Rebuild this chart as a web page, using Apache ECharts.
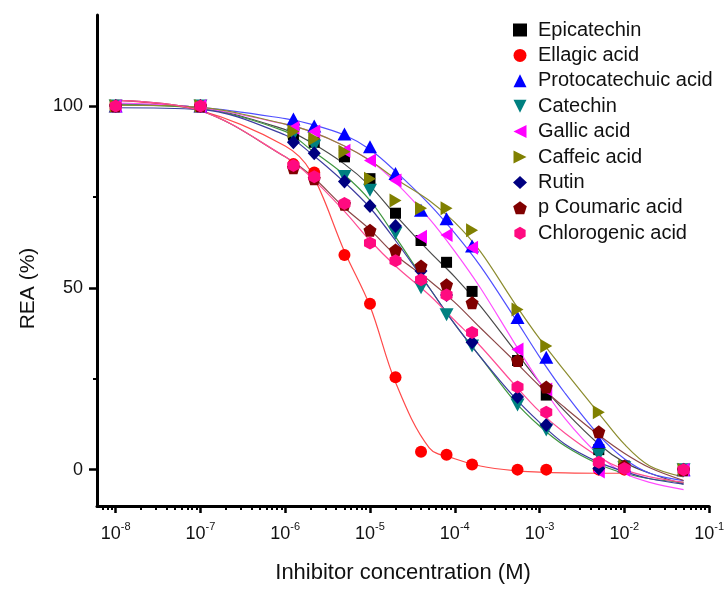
<!DOCTYPE html>
<html><head><meta charset="utf-8">
<script src="https://cdn.jsdelivr.net/npm/echarts@6/dist/echarts.min.js"></script>
<style>html,body{margin:0;padding:0;background:#fff}#c{width:727px;height:589px}</style>
</head><body><div id="c"></div>
<script>
// ---- data ----
const seriesNames = ['Epicatechin','Ellagic acid','Protocatechuic acid','Catechin','Gallic acid','Caffeic acid','Rutin','p Coumaric acid','Chlorogenic acid'];
const concentrations = [1e-8, 1e-7, 1.25e-6, 2.2e-6, 5e-6, 1e-5, 2e-5, 4e-5, 8e-5, 1.6e-4, 5.5e-4, 1.2e-3, 5e-3, 1e-2, 5e-2];
const epicatechin    = [100, 100, 92, 90, 86, 80, 70.5, 63, 57, 49, 30, 20.5, 5.5, 1, 0];
const ellagicAcid    = [100, 100, 84, 81.7, 59, 45.6, 25.4, 4.9, 4.1, 1.4, 0, 0, 0, 0, 0];
const protocatechuic = [100, 100, 96.4, 94.5, 92.3, 88.8, 81.4, 71.3, 69, 61.5, 41.8, 30.9, 7.7, 1, 0];
const catechin       = [100, 100, 92, 89, 80.6, 76.8, 65, 50, 42.6, 34, 17.8, 10.9, 4, 0.5, 0];
const gallicAcid     = [100, 100, 94, 93, 87.7, 85, 79.5, 64, 64.5, 61, 33, 22, -0.5, 0, 0];
const caffeicAcid    = [100, 100, 93, 91, 87.4, 80, 74, 71.9, 71.9, 65.8, 44, 34, 15.8, 1, 0];
const rutin          = [100, 100, 90, 87, 79.2, 72.5, 67, 54.6, 48, 35, 20, 12.3, 0.3, 0.5, 0];
const pCoumaricAcid  = [100, 100, 83, 80, 73, 65.8, 60.4, 56, 50.8, 45.9, 30, 22.7, 10.4, 1, 0];
const chlorogenic    = [100, 100, 83.6, 80.5, 73.2, 62.3, 57.4, 52.2, 48, 37.7, 22.7, 15.8, 2, 0.3, 0];

// fitted curves
const fitConc = [1e-8, 1e-7, 1e-6, 2e-6, 5e-6, 1e-5, 2e-5, 5e-5, 1e-4, 2e-4, 5e-4, 1e-3, 2e-3, 5e-3, 1e-2, 2e-2, 5e-2];
const fitEpicatechin    = [100.5, 99.5, 93.5, 90, 84, 78, 70, 60, 53, 45, 33, 24, 16, 7, 2, -1, -4];
const fitEllagic        = [101.5, 98.7, 89, 82, 60, 45, 24, 6, 3, 1, -0.3, -0.7, -0.9, -1, -1, null, null];
const fitProtocatechuic = [100.5, 99.6, 96.5, 95, 92, 88, 82, 73, 65, 56, 42, 31, 21, 9.5, 3, -1, -3];
const fitCatechin       = [100.3, 99.3, 93, 88, 81, 74, 64, 50, 40, 31, 19, 12, 6.5, 1.5, -1, -2.5, -3.5];
const fitGallic         = [100.8, 99.5, 95, 93, 89, 85, 79, 69, 60, 50, 35, 24, 14, 4, -1, -3.5, -5.5];
const fitCaffeic        = [100.2, 99.6, 95, 93, 89, 85, 80, 74, 68, 60, 46, 36, 27, 15.5, 7, 1, -2];
const fitRutin          = [99.5, 99, 92, 87, 79, 72, 63, 50, 40, 31, 20, 13, 7, 2, -0.5, -2.5, -4];
const fitPCoumaric      = [101.5, 98.7, 86, 81, 72, 66, 59, 52, 46, 39, 30, 23, 17, 9.5, 4.5, 0.5, -3];
const fitChlorogenic    = [101.5, 98.7, 86, 80.5, 71, 63, 56, 48, 41, 34, 23.5, 16, 10, 3.5, 0, -2, -3.5];

const majorExponents = [-8, -7, -6, -5, -4, -3, -2, -1];
const yTickValues = [0, 50, 100];
const yMinorTickValues = [25, 75];

// ---- styles ----
const pointSets = [epicatechin, ellagicAcid, protocatechuic, catechin, gallicAcid, caffeicAcid, rutin, pCoumaricAcid, chlorogenic];
const fitSets = [fitEpicatechin, fitEllagic, fitProtocatechuic, fitCatechin, fitGallic, fitCaffeic, fitRutin, fitPCoumaric, fitChlorogenic];
const markerColors = ['#000000','#ff0000','#0000ff','#008080','#ff00ff','#808000','#000080','#800000','#ff0a80'];
const lineColors = ['#4a4a4a','#ff4a4a','#5050ff','#3f963f','#ff4dff','#8c8c2e','#3c3ca0','#8c4848','#ff4d94'];
const symbols = [
  'rect', 'circle',
  'path://M0,-1 L1,1 L-1,1 Z',
  'path://M-1,-1 L1,-1 L0,1 Z',
  'path://M-1,0 L1,-1 L1,1 Z',
  'path://M1,0 L-1,-1 L-1,1 Z',
  'diamond',
  'path://M0,-1 L0.951,-0.309 L0.588,0.809 L-0.588,0.809 L-0.951,-0.309 Z',
  'path://M0,-1 L0.866,-0.5 L0.866,0.5 L0,1 L-0.866,0.5 L-0.866,-0.5 Z'
];
const symbolSizes = [11, 12, [14,13], [14,13], [12,14], [12,14], [13,14], [13,13], [12,13]];

const FONT = 'Arial, "Liberation Sans", sans-serif';
const XMIN = -8.22, XMAX = -1;
const minorExps = [];
for (let d = -9; d <= -2; d++) for (let k = 2; k <= 9; k++) {
  const v = d + Math.log10(k);
  if (v >= XMIN && v <= XMAX) minorExps.push(v);
}

const series = [];
fitSets.forEach((f, i) => {
  series.push({
    name: 'fit ' + seriesNames[i], type: 'line', xAxisIndex: 0, yAxisIndex: 0,
    data: fitConc.map((c, j) => f[j] == null ? null : [Math.log10(c), f[j]]).filter(Boolean),
    showSymbol: false, symbol: 'none', smooth: 0.35, silent: true, z: 2,
    lineStyle: { color: lineColors[i], width: 1.2 }
  });
});
pointSets.forEach((p, i) => {
  series.push({
    name: seriesNames[i], type: 'scatter', xAxisIndex: 0, yAxisIndex: 0,
    data: concentrations.map((c, j) => p[j] == null ? null : [Math.log10(c), p[j]]).filter(Boolean),
    symbol: symbols[i], symbolSize: symbolSizes[i], z: 3,
    itemStyle: { color: markerColors[i], opacity: 1 }
  });
});

const chart = echarts.init(document.getElementById('c'), null, { renderer: 'canvas' });
chart.setOption({
  animation: false,
  backgroundColor: '#ffffff',
  grid: { left: 97, right: 13, top: 15, bottom: 80, containLabel: false },
  legend: {
    orient: 'vertical', left: 508, top: 15, itemWidth: 14, itemHeight: 13, itemGap: 5.4,
    data: seriesNames, selectedMode: false,
    formatter: n => '{t|' + n + '}',
    textStyle: { fontSize: 20, fontFamily: FONT, color: '#111',
      rich: { t: { fontSize: 20, fontFamily: FONT, color: '#111', padding: [0, 0, 0, 6] } } }
  },
  xAxis: [{
    type: 'value', min: XMIN, max: XMAX, position: 'bottom',
    axisLine: { show: true, onZero: false, lineStyle: { color: '#000', width: 3 } },
    axisTick: { show: true, length: 7, customValues: majorExponents, lineStyle: { color: '#000', width: 2.5 } },
    axisLabel: {
      customValues: majorExponents, margin: 15,
      formatter: v => '{b|10}{s|' + v + '}',
      rich: {
        b: { fontSize: 18, fontFamily: FONT, color: '#111', lineHeight: 22, verticalAlign: 'bottom' },
        s: { fontSize: 11, fontFamily: FONT, color: '#111', lineHeight: 22, verticalAlign: 'top' }
      }
    },
    splitLine: { show: false },
    name: 'Inhibitor concentration (M)', nameLocation: 'middle', nameGap: 56,
    nameTextStyle: { fontSize: 22, fontFamily: FONT, color: '#111' }
  }, {
    type: 'value', min: XMIN, max: XMAX, position: 'bottom',
    axisLine: { show: false, onZero: false },
    axisTick: { show: true, length: 4, customValues: minorExps, lineStyle: { color: '#000', width: 2 } },
    axisLabel: { show: false }, splitLine: { show: false }
  }],
  yAxis: [{
    type: 'value', min: -10, max: 125, position: 'left',
    axisLine: { show: true, onZero: false, lineStyle: { color: '#000', width: 3 } },
    axisTick: { show: true, length: 8, customValues: yTickValues, lineStyle: { color: '#000', width: 2.5 } },
    axisLabel: { customValues: yTickValues, fontSize: 18, fontFamily: FONT, color: '#111', margin: 14 },
    splitLine: { show: false },
    name: 'REA (%)', nameLocation: 'middle', nameGap: 58,
    nameTextStyle: { fontSize: 21, fontFamily: FONT, color: '#111', padding: [0, 56, 0, 0] }
  }, {
    type: 'value', min: -10, max: 125, position: 'left',
    axisLine: { show: false, onZero: false },
    axisTick: { show: true, length: 4, customValues: yMinorTickValues, lineStyle: { color: '#000', width: 2 } },
    axisLabel: { show: false }, splitLine: { show: false }
  }],
  series: series
});
</script></body></html>
